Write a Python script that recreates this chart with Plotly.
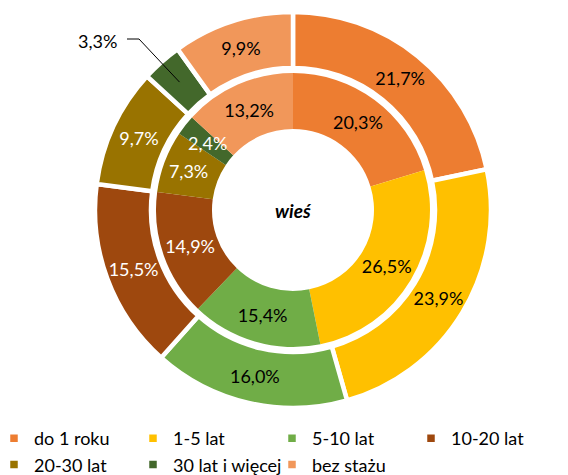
import math
import plotly.graph_objects as go

categories = ["do 1 roku", "1-5 lat", "5-10 lat", "10-20 lat", "20-30 lat", "30 lat i więcej", "bez stażu"]
inner_values = [20.3, 26.5, 15.4, 14.9, 7.3, 2.4, 13.2]
outer_values = [21.7, 23.9, 16.0, 15.5, 9.7, 3.3, 9.9]
colors = ["#ED7D31", "#FFC000", "#70AD47", "#9E480E", "#997300", "#43682B", "#F1975A"]
text_colors = ["black", "black", "black", "white", "white", "white", "black"]
center_label = "wieś"

W, H = 568, 475
MB = 60                 # bottom margin reserved for the legend
HP = H - MB             # plot-area height
FONT = "Lato"
FS = 18

def fmt(v):
    return f"{v:.1f}".replace(".", ",") + "%"

inner_text = [fmt(v) for v in inner_values]
outer_text = [fmt(v) for v in outer_values]
SMALL = 5  # slice whose labels are placed by hand
outer_pos = ["inside"] * len(outer_values)
outer_pos[SMALL] = "none"
inner_pos = ["inside"] * len(inner_values)
inner_pos[SMALL] = "none"

# geometry in pixels
cx, cy = 293, 210
R_OUT, R_OUT_HOLE = 198, 142
R_IN, R_IN_HOLE = 137, 81

def fx(x):
    return x / W

def fy(y):
    return (HP - y) / HP

def dom(r):
    return dict(x=[fx(cx - r), fx(cx + r)], y=[max(0, fy(cy + r)), min(1, fy(cy - r))])

def slice_point(values, idx, r):
    tot = sum(values)
    mid = (sum(values[:idx]) + values[idx] / 2) / tot * 2 * math.pi
    return cx + r * math.sin(mid), cy - r * math.cos(mid)

fig = go.Figure()
fig.add_trace(go.Pie(
    labels=categories, values=outer_values, sort=False, direction="clockwise",
    hole=R_OUT_HOLE / R_OUT, domain=dom(R_OUT),
    marker=dict(colors=colors, line=dict(color="white", width=4.5)),
    text=outer_text, textinfo="text", textposition=outer_pos,
    insidetextorientation="horizontal",
    textfont=dict(family=FONT, size=FS, color=text_colors),
    showlegend=True, hoverinfo="label+value",
))
fig.add_trace(go.Pie(
    labels=categories, values=inner_values, sort=False, direction="clockwise",
    hole=R_IN_HOLE / R_IN, domain=dom(R_IN),
    marker=dict(colors=colors, line=dict(color="white", width=0)),
    text=inner_text, textinfo="text", textposition=inner_pos,
    insidetextorientation="horizontal",
    textfont=dict(family=FONT, size=FS, color=text_colors),
    showlegend=False, hoverinfo="label+value",
))

ann = dict(xref="paper", yref="paper", showarrow=False, xanchor="center", yanchor="middle")
fig.add_annotation(text=f"<b><i>{center_label}</i></b>", x=fx(cx), y=fy(cy),
                   font=dict(family=FONT, size=19, color="black"), **ann)

ix, iy = slice_point(inner_values, SMALL, (R_IN + R_IN_HOLE) / 2)
fig.add_annotation(text=inner_text[SMALL], x=fx(ix), y=fy(iy),
                   font=dict(family=FONT, size=FS, color=text_colors[SMALL]), **ann)

ex, ey = slice_point(outer_values, SMALL, 171)
fig.add_annotation(text=outer_text[SMALL], x=fx(97), y=fy(41),
                   font=dict(family=FONT, size=FS, color="black"), **ann)
fig.add_shape(type="path", xref="paper", yref="paper",
              path=f"M {fx(127)},{fy(39)} L {fx(139)},{fy(39)} L {fx(ex)},{fy(ey)}",
              line=dict(color="black", width=1))

fig.update_layout(
    width=W, height=H, margin=dict(l=0, r=0, t=0, b=MB, autoexpand=False),
    paper_bgcolor="white", plot_bgcolor="white",
    font=dict(family=FONT, size=FS, color="black"),
    legend=dict(orientation="h", x=fx(-6), y=fy(420), xanchor="left", yanchor="top",
                entrywidth=94, entrywidthmode="pixels", traceorder="normal",
                font=dict(family=FONT, size=FS), itemwidth=30),
)

fig.write_html("out.html", config={"displayModeBar": False},
               post_script="document.body.style.margin='0';")
